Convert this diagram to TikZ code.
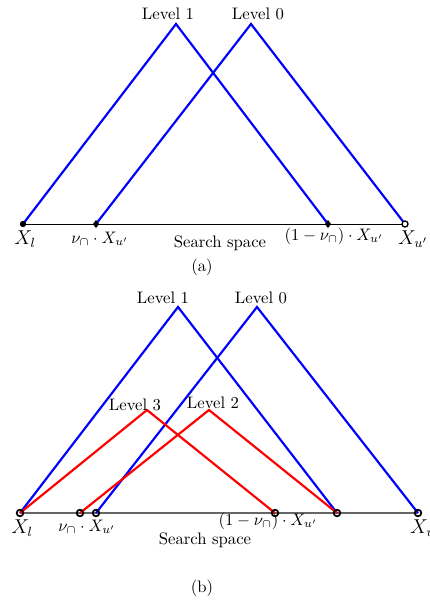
\documentclass[tikz,border=0pt]{standalone}
\usetikzlibrary{shapes.geometric}
\begin{document}
\begin{tikzpicture}[x=0.6pt,y=-0.6pt,
  blueline/.style={blue, line width=1.3pt},
  redline/.style={red, line width=1.3pt},
  baseA/.style={black, line width=0.6pt},
  baseB/.style={black!60, line width=0.9pt},
  lbl/.style={inner sep=0pt},
  bigX/.style={inner sep=0pt, font=\large},
  fdot/.style={circle, fill=black, inner sep=0pt, minimum size=3.8pt},
  ddot/.style={diamond, fill=black, inner sep=0pt, minimum width=3.8pt, minimum height=5pt},
  odot/.style={circle, draw=black, fill=white, line width=0.8pt, inner sep=0pt, minimum size=3.6pt},
  ring/.style={circle, draw=black, line width=1pt, inner sep=0pt, minimum size=4pt}]
\useasboundingbox (0,0) rectangle (429,603);
% ---------- panel (a)
\coordinate (al) at (23,224);
\coordinate (an) at (96,224);
\coordinate (am) at (328,224);
\coordinate (au) at (405,224);
\coordinate (a1) at (176,24);
\coordinate (a0) at (251,24);
\draw[baseA] (al) -- (au);
\draw[blueline] (al) -- (a1) -- (am);
\draw[blueline] (an) -- (a0) -- (au);
\node[fdot] (dal) at (al) {};
\node[ddot] (dan) at (an) {};
\node[ddot] (dam) at (am) {};
\node[odot] (dau) at (au) {};
\node[lbl] (ta1) at (168,14) {Level 1};
\node[lbl] (ta0) at (258,14) {Level 0};
\node[bigX] (tal) at (25,239) {$X_l$};
\node[lbl] (tan) at (100,239) {$\nu_\cap\cdot X_{u'}$};
\node[lbl] (tas) at (220,243) {Search space};
\node[lbl] (tam) at (334,236) {$(1-\nu_\cap)\cdot X_{u'}$};
\node[bigX] (tau) at (413,239) {$X_{u'}$};
\node[lbl] (tcap) at (202,267) {(a)};
% ---------- panel (b)
\coordinate (bl) at (20,513);
\coordinate (bn) at (80,513);
\coordinate (bu) at (96,513);
\coordinate (bm3) at (275,513);
\coordinate (bm) at (337,513);
\coordinate (br) at (418,513);
\coordinate (b1) at (178,307);
\coordinate (b0) at (257,307);
\coordinate (b3) at (147,410);
\coordinate (b2) at (209,410);
\draw[baseB] (bl) -- (br);
\draw[blueline] (bl) -- (b1) -- (bm);
\draw[blueline] (bu) -- (b0) -- (br);
\draw[redline] (bl) -- (b3) -- (bm3);
\draw[redline] (bn) -- (b2) -- (bm);
\node[ring] (dbl) at (bl) {};
\node[ring] (dbn) at (bn) {};
\node[ring] (dbu) at (bu) {};
\node[ring] (dbm3) at (bm3) {};
\node[ring] (dbm) at (bm) {};
\node[ring] (dbr) at (br) {};
\node[lbl] (tb1) at (163,298) {Level 1};
\node[lbl] (tb0) at (261,298) {Level 0};
\node[lbl] (tb3) at (135,405) {Level 3};
\node[lbl] (tb2) at (213,403) {Level 2};
\node[bigX] (tbl) at (22,528) {$X_l$};
\node[lbl] (tbn) at (87,527) {$\nu_\cap\cdot X_{u'}$};
\node[lbl] (tbs) at (205,540) {Search space};
\node[lbl] (tbm) at (268,521) {$(1-\nu_\cap)\cdot X_{u'}$};
\node[bigX] (tbr) at (425,528) {$X_{u'}$};
\node[lbl] (tcbp) at (202,588) {(b)};
\end{tikzpicture}
\end{document}
